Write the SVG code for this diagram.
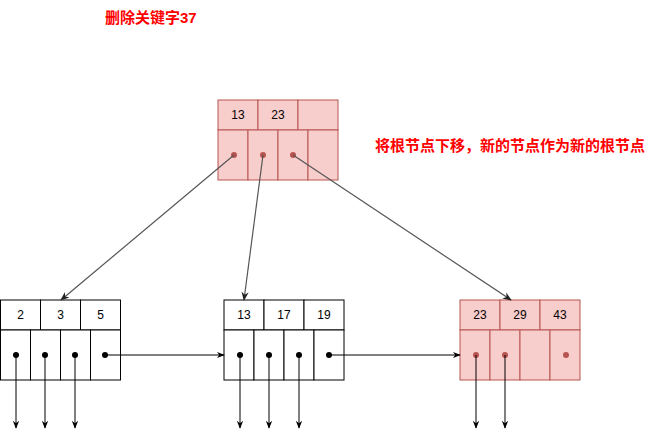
<svg xmlns="http://www.w3.org/2000/svg" width="656" height="439" viewBox="0 0 656 439">
<style>
.w{fill:#ffffff;stroke:#000000;stroke-width:1}
.r{fill:#f8cecc;stroke:#b85450;stroke-width:1}
.t{font-family:"Liberation Sans",Arial,sans-serif;font-size:12px;fill:#000;text-anchor:middle;dominant-baseline:central}
.lbl{font-family:"Liberation Sans","Noto Sans CJK SC",sans-serif;font-size:15px;font-weight:bold;fill:#ff0000}
.dk{fill:#000}
.dr{fill:#b85450}
.e{fill:none;stroke:#000;stroke-width:1}
.g{fill:none;stroke:#555555;stroke-width:1.2}
</style>
<defs>
<marker id="a" viewBox="0 0 10 10" refX="9" refY="5" markerWidth="8" markerHeight="8" orient="auto" markerUnits="userSpaceOnUse">
<path d="M0,1 L10,5 L0,9 L3,5 Z" fill="#000"/>
</marker>
<marker id="ag" viewBox="0 0 10 10" refX="9" refY="5" markerWidth="9" markerHeight="9" orient="auto" markerUnits="userSpaceOnUse">
<path d="M0,1 L10,5 L0,9 L3,5 Z" fill="#222"/>
</marker>
</defs>
<text class="lbl" x="105" y="22.5">删除关键字37</text>
<text class="lbl" x="375" y="150.5">将根节点下移，新的节点作为新的根节点</text>
<g id="root">
<rect class="r" x="218" y="100" width="40" height="30"/>
<rect class="r" x="258" y="100" width="40" height="30"/>
<rect class="r" x="298" y="100" width="40" height="30"/>
<rect class="r" x="218" y="130" width="30" height="50"/>
<rect class="r" x="248" y="130" width="30" height="50"/>
<rect class="r" x="278" y="130" width="30" height="50"/>
<rect class="r" x="308" y="130" width="30" height="50"/>
<text class="t" x="238" y="115">13</text>
<text class="t" x="278" y="115">23</text>
<circle class="dr" cx="234" cy="155" r="3"/>
<circle class="dr" cx="263" cy="155" r="3"/>
<circle class="dr" cx="293" cy="155" r="3"/>
</g>
<g id="left">
<rect class="w" x="0.5" y="300" width="40" height="30"/>
<rect class="w" x="40.5" y="300" width="40" height="30"/>
<rect class="w" x="80.5" y="300" width="40" height="30"/>
<rect class="w" x="0.5" y="330" width="30" height="50"/>
<rect class="w" x="30.5" y="330" width="30" height="50"/>
<rect class="w" x="60.5" y="330" width="30" height="50"/>
<rect class="w" x="90.5" y="330" width="30" height="50"/>
<text class="t" x="20.5" y="315">2</text>
<text class="t" x="60.5" y="315">3</text>
<text class="t" x="100.5" y="315">5</text>
<circle class="dk" cx="16" cy="355" r="3"/>
<circle class="dk" cx="45" cy="355" r="3"/>
<circle class="dk" cx="75" cy="355" r="3"/>
<circle class="dk" cx="105" cy="355" r="3"/>
</g>
<g id="middle">
<rect class="w" x="224" y="300" width="40" height="30"/>
<rect class="w" x="264" y="300" width="40" height="30"/>
<rect class="w" x="304" y="300" width="40" height="30"/>
<rect class="w" x="224" y="330" width="30" height="50"/>
<rect class="w" x="254" y="330" width="30" height="50"/>
<rect class="w" x="284" y="330" width="30" height="50"/>
<rect class="w" x="314" y="330" width="30" height="50"/>
<text class="t" x="244" y="315">13</text>
<text class="t" x="284" y="315">17</text>
<text class="t" x="324" y="315">19</text>
<circle class="dk" cx="240" cy="355" r="3"/>
<circle class="dk" cx="269" cy="355" r="3"/>
<circle class="dk" cx="299" cy="355" r="3"/>
<circle class="dk" cx="329" cy="355" r="3"/>
</g>
<g id="right">
<rect class="r" x="460" y="300" width="40" height="30"/>
<rect class="r" x="500" y="300" width="40" height="30"/>
<rect class="r" x="540" y="300" width="40" height="30"/>
<rect class="r" x="460" y="330" width="30" height="50"/>
<rect class="r" x="490" y="330" width="30" height="50"/>
<rect class="r" x="520" y="330" width="30" height="50"/>
<rect class="r" x="550" y="330" width="30" height="50"/>
<text class="t" x="480" y="315">23</text>
<text class="t" x="520" y="315">29</text>
<text class="t" x="560" y="315">43</text>
<circle class="dr" cx="476" cy="355" r="3"/>
<circle class="dr" cx="505" cy="355" r="3"/>
<circle class="dr" cx="566" cy="355" r="3"/>
</g>
<g id="connectors">
<line class="g" x1="234" y1="155" x2="61" y2="300" marker-end="url(#ag)"/>
<line class="g" x1="263" y1="155" x2="244" y2="300" marker-end="url(#ag)"/>
<line class="g" x1="293" y1="155" x2="511" y2="300" marker-end="url(#ag)"/>
<line class="e" x1="105" y1="355" x2="224" y2="355" marker-end="url(#a)"/>
<line class="e" x1="329" y1="355" x2="460" y2="355" marker-end="url(#a)"/>
<line class="e" x1="16" y1="355" x2="16" y2="428" marker-end="url(#a)"/>
<line class="e" x1="45" y1="355" x2="45" y2="428" marker-end="url(#a)"/>
<line class="e" x1="75" y1="355" x2="75" y2="428" marker-end="url(#a)"/>
<line class="e" x1="240" y1="355" x2="240" y2="428" marker-end="url(#a)"/>
<line class="e" x1="269" y1="355" x2="269" y2="428" marker-end="url(#a)"/>
<line class="e" x1="299" y1="355" x2="299" y2="428" marker-end="url(#a)"/>
<line class="e" x1="476" y1="355" x2="476" y2="428" marker-end="url(#a)"/>
<line class="e" x1="505" y1="355" x2="505" y2="428" marker-end="url(#a)"/>
</g>
</svg>
